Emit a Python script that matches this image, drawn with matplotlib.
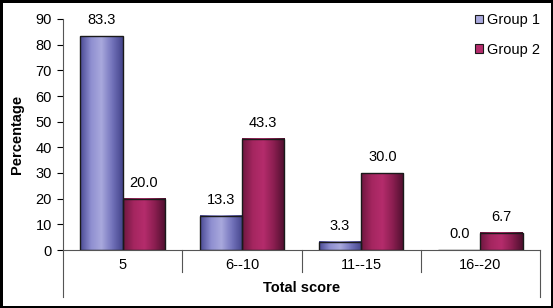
import numpy as np
import matplotlib
matplotlib.use('Agg')
import matplotlib.pyplot as plt
from matplotlib.colors import LinearSegmentedColormap
from matplotlib.lines import Line2D
from matplotlib.patches import Patch

# data
categories = ['5', '6--10', '11--15', '16--20']
group1 = [83.3, 13.3, 3.3, 0.0]
group2 = [20.0, 43.3, 30.0, 6.7]
series_names = ['Group 1', 'Group 2']

plt.rcParams['font.family'] = ['Liberation Sans', 'DejaVu Sans']

# horizontal shading like the old Excel bars
CMAPS = [
    LinearSegmentedColormap.from_list('g1', ['#4a4a94', '#8e8ed0', '#a9a9dd', '#7474bc', '#45458c']),
    LinearSegmentedColormap.from_list('g2', ['#6e1740', '#a52660', '#b52c6c', '#8a1e50', '#4e0f2e']),
]
EDGE = '#1a1a1a'

fig = plt.figure(figsize=(5.53, 3.08), dpi=100, facecolor='white')
fig.patch.set_edgecolor('black')
fig.patch.set_linewidth(2.5)
ax = fig.add_axes([63 / 553, 1 - 250 / 308, (540 - 63) / 553, (250 - 19) / 308])

x = np.arange(len(categories))
width = 0.355
grad = np.linspace(0, 1, 64).reshape(1, -1)

for k, vals in enumerate([group1, group2]):
    offs = (k - 0.5) * width
    bars = ax.bar(x + offs, vals, width, facecolor='none', edgecolor=EDGE,
                  linewidth=1.0, zorder=3, label=series_names[k])
    for b, v in zip(bars, vals):
        x0 = b.get_x()
        if v > 0:
            ax.imshow(grad, cmap=CMAPS[k], aspect='auto', zorder=2,
                      extent=(x0, x0 + width, 0, v), interpolation='bilinear')
        ax.text(x0 + width / 2, v + 3.4, f'{v:.1f}', ha='center', va='bottom',
                fontsize=10.5, color='black')

ax.set_xlim(-0.5, len(categories) - 0.5)
ax.set_ylim(0, 90)
ax.set_yticks(np.arange(0, 91, 10))
ax.tick_params(axis='y', direction='out', length=4, width=0.8, labelsize=10.5, pad=4)
ax.tick_params(axis='x', length=0, labelsize=10.5, pad=6)
ax.set_xticks(x)
ax.set_xticklabels(categories)
ax.spines['top'].set_visible(False)
ax.spines['right'].set_visible(False)
ax.spines['left'].set_color('#555555')
ax.spines['bottom'].set_color('#555555')

ax.set_ylabel('Percentage', fontsize=10.5, fontweight='bold', labelpad=8)
ax.set_xlabel('Total score', fontsize=10.5, fontweight='bold', labelpad=6)

# category separators below the axis (multi-level axis look)
trans = ax.get_xaxis_transform()
for i in range(len(categories) + 1):
    xb = i - 0.5
    y_end = -0.205 if i in (0, len(categories)) else -0.095
    ax.add_line(Line2D([xb, xb], [0, y_end], transform=trans, color='#555555',
                       linewidth=0.8, clip_on=False))

handles = [Patch(facecolor=CMAPS[k](0.5), edgecolor=EDGE, linewidth=0.8) for k in range(2)]
ax.legend(handles, series_names, loc='upper right', bbox_to_anchor=(1.0, 1.025),
          frameon=False, fontsize=10.5, handlelength=0.55, handleheight=0.55,
          handletextpad=0.3, labelspacing=1.05, borderaxespad=0, borderpad=0)

fig.savefig('out.png', dpi=100, facecolor='white', edgecolor='black')
